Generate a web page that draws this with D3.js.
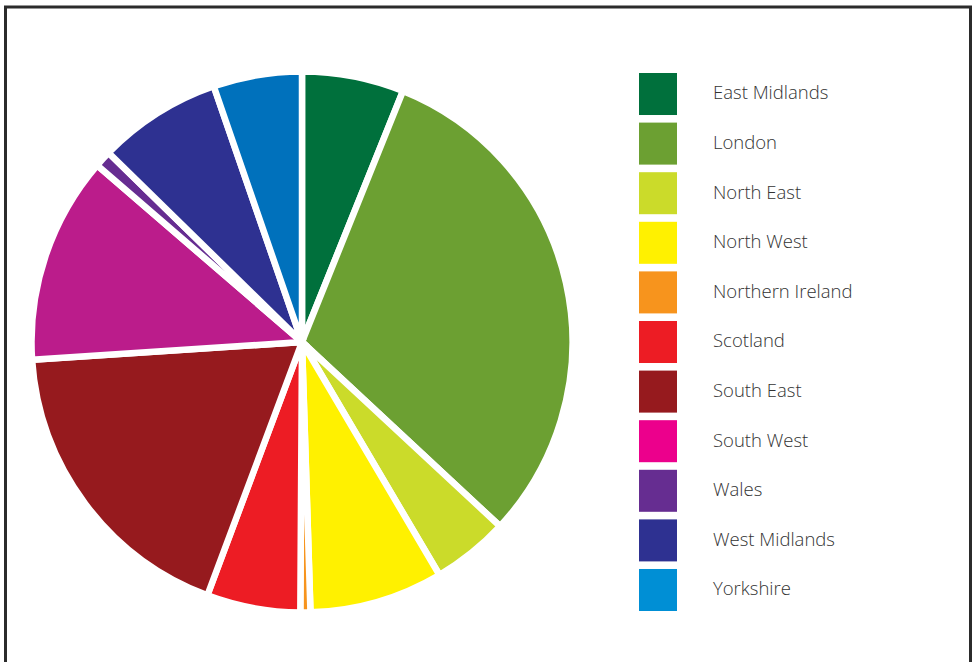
<!DOCTYPE html>
<html>
<head>
<meta charset="utf-8">
<script src="https://cdn.jsdelivr.net/npm/d3@7"></script>
<style>
  html, body { margin: 0; padding: 0; background: #fff; }
  svg { display: block; }
</style>
</head>
<body>
<svg id="chart" width="975" height="662"></svg>
<script>
// Regional shares (%), clockwise from 12 o'clock
const regions = ["East Midlands", "London", "North East", "North West", "Northern Ireland",
                 "Scotland", "South East", "South West", "Wales", "West Midlands", "Yorkshire"];
const shares = [6.1, 30.9, 4.6, 8.0, 0.6, 5.6, 18.3, 12.4, 1.0, 7.4, 5.3];
const sliceColors = ["#00703c", "#6ca032", "#cbdb2a", "#fff100", "#f7941d",
                     "#ed1c24", "#961a1e", "#bb1c8b", "#662d91", "#2e3191", "#0071bc"];
const swatchColors = ["#00703c", "#6ca032", "#cbdb2a", "#fff100", "#f7941d",
                      "#ed1c24", "#961a1e", "#ec008c", "#662d91", "#2e3191", "#008fd5"];

const data = regions.map((name, i) => ({ name, value: shares[i], slice: sliceColors[i], swatch: swatchColors[i] }));

const svg = d3.select("#chart");

// Outer frame
svg.append("rect")
  .attr("x", 5.5).attr("y", 7).attr("width", 965).attr("height", 670)
  .attr("fill", "none").attr("stroke", "#2b2b2b").attr("stroke-width", 3);

// Pie
const cx = 302, cy = 342, radius = 270.5;
const pie = d3.pie().value(d => d.value).sort(null);
const arc = d3.arc().innerRadius(0).outerRadius(radius);

svg.append("g")
  .attr("transform", `translate(${cx},${cy})`)
  .selectAll("path")
  .data(pie(data))
  .join("path")
  .attr("d", arc)
  .attr("fill", d => d.data.slice)
  .attr("stroke", "#fff")
  .attr("stroke-width", 6.5)
  .attr("stroke-linejoin", "miter");

// Legend
const y = d3.scaleBand()
  .domain(regions)
  .range([73, 611])
  .paddingInner(0.153)
  .paddingOuter(0);

const legend = svg.append("g");
const rows = legend.selectAll("g")
  .data(data)
  .join("g")
  .attr("transform", d => `translate(0,${y(d.name)})`);

rows.append("rect")
  .attr("x", 639).attr("width", 38)
  .attr("height", y.bandwidth())
  .attr("fill", d => d.swatch);

rows.append("text")
  .attr("x", 713)
  .attr("y", y.bandwidth() / 2 - 1)
  .attr("dy", "0.35em")
  .attr("font-family", "'Open Sans', sans-serif")
  .attr("font-weight", 300)
  .attr("font-size", 18.5)
  .attr("fill", "#333")
  .text(d => d.name);
</script>
</body>
</html>
